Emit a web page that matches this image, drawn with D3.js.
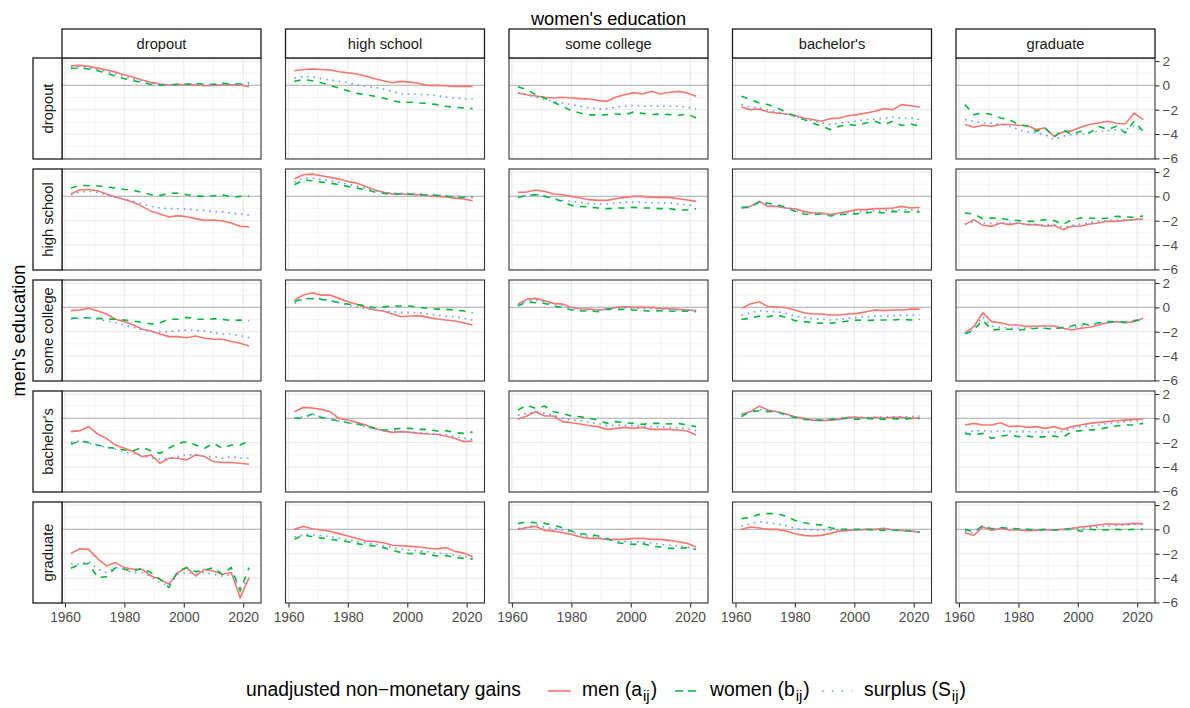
<!DOCTYPE html>
<html>
<head>
<meta charset="utf-8">
<script src="https://cdn.jsdelivr.net/npm/d3@7"></script>
<style>
  body { margin: 0; background: #fff; }
  text { font-family: "Liberation Sans", Arial, Helvetica, sans-serif; }
</style>
</head>
<body>
<svg id="chart" width="1190" height="708"></svg>
<script>
// years sampled every 3 years, 1962..2022
const years = d3.range(1962, 2023, 3);

const menEdu = ["dropout", "high school", "some college", "bachelor's", "graduate"];
const womenEdu = ["dropout", "high school", "some college", "bachelor's", "graduate"];

// men[row = men's education][col = women's education]
const men = [
  [
    [1.61,1.64,1.56,1.42,1.26,1.09,0.87,0.66,0.44,0.25,0.11,0.03,0.08,0.03,0.05,-0.03,0,0.03,0.05,0.03,-0.1],
    [1.2,1.31,1.34,1.31,1.26,1.12,1.04,0.93,0.77,0.55,0.38,0.22,0.33,0.27,0.16,0,0,-0.03,-0.08,-0.08,-0.08],
    [-0.63,-0.77,-0.87,-0.98,-1.04,-0.98,-1.04,-1.09,-1.12,-1.23,-1.31,-0.96,-0.77,-0.6,-0.71,-0.49,-0.71,-0.57,-0.49,-0.63,-0.9],
    [-1.78,-1.99,-1.94,-2.19,-2.27,-2.35,-2.46,-2.68,-2.81,-2.95,-2.73,-2.68,-2.49,-2.4,-2.27,-2.13,-1.91,-1.99,-1.58,-1.67,-1.8],
    [-3.22,-3.44,-3.28,-3.36,-3.22,-3.22,-3.28,-3.3,-3.63,-3.5,-4.18,-3.83,-3.72,-3.44,-3.22,-3.09,-2.95,-3.11,-3.17,-2.27,-2.81]
  ],
  [
    [0.19,0.55,0.57,0.46,0.19,-0.05,-0.25,-0.49,-0.82,-1.23,-1.45,-1.69,-1.58,-1.67,-1.83,-1.97,-1.94,-2.02,-2.19,-2.46,-2.51],
    [1.45,1.78,1.83,1.69,1.56,1.42,1.23,1.09,0.82,0.55,0.33,0.19,0.19,0.16,0.14,0.05,0,-0.05,-0.14,-0.22,-0.36],
    [0.33,0.36,0.52,0.41,0.19,0.14,0,-0.14,-0.27,-0.33,-0.33,-0.19,-0.08,0,0,-0.08,-0.08,-0.08,-0.19,-0.3,-0.41],
    [-0.96,-0.82,-0.41,-0.82,-0.82,-0.96,-1.01,-1.23,-1.37,-1.37,-1.5,-1.37,-1.23,-1.09,-1.09,-1.01,-1.01,-0.96,-0.82,-0.96,-0.9],
    [-2.32,-1.91,-2.38,-2.46,-2.19,-2.32,-2.19,-2.32,-2.32,-2.46,-2.38,-2.73,-2.46,-2.46,-2.27,-2.19,-2.05,-2.05,-1.97,-1.91,-1.86]
  ],
  [
    [-0.27,-0.22,-0.08,-0.3,-0.55,-0.98,-1.17,-1.45,-1.8,-1.94,-2.19,-2.4,-2.4,-2.49,-2.35,-2.54,-2.62,-2.62,-2.81,-2.95,-3.17],
    [0.6,1.01,1.2,1.01,1.01,0.74,0.46,0.25,0,-0.22,-0.3,-0.55,-0.77,-0.71,-0.68,-0.82,-0.96,-1.04,-1.12,-1.26,-1.45],
    [0.27,0.66,0.74,0.55,0.33,0.27,0,-0.11,-0.14,-0.22,-0.14,0,0.05,0,0,0,-0.08,-0.11,-0.16,-0.22,-0.27],
    [-0.08,0.27,0.46,0.05,0.05,-0.03,-0.22,-0.44,-0.55,-0.55,-0.63,-0.63,-0.55,-0.49,-0.36,-0.22,-0.27,-0.22,-0.22,-0.14,-0.14],
    [-2.08,-1.58,-0.44,-1.17,-1.26,-1.45,-1.45,-1.58,-1.53,-1.53,-1.53,-1.72,-1.86,-1.72,-1.64,-1.45,-1.26,-1.17,-1.26,-1.17,-0.9]
  ],
  [
    [-1.09,-1.01,-0.68,-1.28,-1.64,-2.19,-2.46,-2.73,-3.14,-3.0,-3.69,-3.28,-3.28,-3.41,-3.0,-3.14,-3.55,-3.63,-3.63,-3.69,-3.77],
    [0.55,0.9,0.85,0.74,0.55,0,-0.14,-0.33,-0.55,-0.82,-1.01,-1.15,-1.09,-1.15,-1.23,-1.28,-1.31,-1.45,-1.64,-1.91,-1.86],
    [-0.08,0.19,0.55,0.19,0.19,-0.27,-0.36,-0.46,-0.6,-0.68,-0.9,-0.82,-0.74,-0.82,-0.74,-0.9,-0.9,-0.9,-0.96,-1.04,-1.37],
    [0.36,0.55,1.01,0.68,0.55,0.36,0.14,0,-0.14,-0.19,-0.14,-0.08,0.08,0.08,0.03,0.08,0.03,0.08,0.08,0,0.03],
    [-0.55,-0.41,-0.55,-0.55,-0.36,-0.68,-0.63,-0.74,-0.68,-0.82,-0.68,-0.9,-0.68,-0.55,-0.41,-0.33,-0.27,-0.19,-0.14,-0.08,-0.05]
  ],
  [
    [-1.97,-1.6,-1.64,-2.4,-3.0,-2.73,-3.14,-3.28,-3.28,-3.83,-4.1,-4.5,-3.55,-3.14,-3.83,-3.28,-3.42,-3.69,-3.55,-5.6,-3.96],
    [0,0.25,0.05,-0.05,-0.15,-0.35,-0.55,-0.75,-0.95,-1.0,-1.1,-1.3,-1.35,-1.4,-1.45,-1.55,-1.6,-1.5,-1.8,-1.95,-2.25],
    [0,0.15,0.25,-0.08,-0.14,-0.27,-0.41,-0.63,-0.74,-0.74,-0.82,-0.82,-0.82,-0.74,-0.74,-0.82,-0.82,-0.9,-1.01,-1.15,-1.45],
    [0,0.19,0.11,0,0,-0.14,-0.36,-0.49,-0.55,-0.49,-0.33,-0.14,-0.08,-0.05,0,0,0.08,-0.05,-0.08,-0.14,-0.22],
    [-0.27,-0.5,0.2,-0.08,0.08,-0.05,-0.05,-0.1,-0.08,-0.05,-0.05,0,0.08,0.19,0.27,0.36,0.46,0.41,0.41,0.49,0.46]
  ]
];

const women = [
  [
    [1.39,1.42,1.34,1.2,1.01,0.74,0.55,0.38,0.25,0.08,0,0.05,0.08,0.1,0.16,0.1,0.08,0.19,0.1,0.14,0.22],
    [0.33,0.49,0.38,0.22,0,-0.22,-0.44,-0.66,-0.77,-0.9,-1.04,-1.26,-1.39,-1.39,-1.45,-1.48,-1.58,-1.72,-1.8,-1.86,-1.91],
    [-0.11,-0.36,-0.77,-1.04,-1.39,-1.72,-2.08,-2.27,-2.4,-2.46,-2.4,-2.35,-2.4,-2.19,-2.3,-2.4,-2.35,-2.4,-2.46,-2.35,-2.68],
    [-0.9,-1.17,-1.45,-1.58,-1.86,-2.19,-2.54,-2.81,-3.09,-3.36,-3.63,-3.36,-3.22,-3.28,-3.09,-2.95,-3.22,-2.95,-3.3,-3.17,-3.36],
    [-1.58,-2.4,-2.27,-2.4,-2.68,-2.81,-3.22,-3.36,-3.77,-3.5,-4.26,-3.63,-4.04,-3.77,-3.91,-3.36,-3.63,-3.36,-3.91,-2.95,-3.77]
  ],
  [
    [0.68,0.9,0.87,0.87,0.77,0.68,0.57,0.49,0.33,0.14,0.08,0.25,0.27,0.14,0.03,0,0.05,0.14,-0.08,0,0.03],
    [0.96,1.34,1.28,1.17,1.09,0.96,0.82,0.68,0.55,0.36,0.25,0.19,0.19,0.19,0.14,0.11,0.08,0.03,-0.05,-0.08,-0.08],
    [-0.08,0.08,0.14,0,-0.19,-0.41,-0.74,-0.82,-0.87,-0.96,-1.01,-0.96,-0.96,-0.9,-0.96,-0.96,-1.01,-1.01,-1.12,-1.12,-1.01],
    [-0.9,-0.9,-0.46,-0.57,-0.68,-0.9,-1.23,-1.45,-1.5,-1.45,-1.61,-1.5,-1.45,-1.42,-1.37,-1.28,-1.37,-1.23,-1.28,-1.28,-1.28],
    [-1.37,-1.45,-1.83,-1.78,-1.83,-1.91,-1.99,-2.05,-2.05,-1.91,-1.99,-2.32,-1.91,-1.78,-1.78,-1.83,-1.78,-1.64,-1.69,-1.72,-1.61]
  ],
  [
    [-0.9,-0.87,-0.85,-0.9,-0.96,-0.98,-1.04,-1.12,-1.23,-1.37,-1.26,-0.98,-0.98,-0.82,-0.98,-0.98,-0.93,-0.98,-1.09,-1.04,-1.09],
    [0.46,0.74,0.71,0.66,0.55,0.38,0.27,0.25,0.11,-0.03,0.05,0.11,0.11,0.11,0,-0.08,-0.14,-0.16,-0.22,-0.3,-0.44],
    [0.11,0.46,0.38,0.33,0.11,0,-0.22,-0.3,-0.3,-0.36,-0.16,-0.16,-0.16,-0.22,-0.27,-0.3,-0.27,-0.3,-0.33,-0.3,-0.36],
    [-0.98,-0.9,-0.71,-0.77,-0.63,-0.82,-1.09,-1.17,-1.26,-1.31,-1.31,-1.2,-1.12,-1.04,-1.09,-1.04,-1.04,-1.04,-0.98,-1.04,-0.98],
    [-2.19,-1.86,-1.04,-1.86,-1.8,-1.8,-1.86,-1.8,-1.72,-1.72,-1.8,-1.64,-1.53,-1.31,-1.45,-1.26,-1.17,-1.17,-1.23,-1.09,-0.98]
  ],
  [
    [-2.13,-1.83,-1.99,-2.19,-2.38,-2.46,-2.6,-2.65,-2.38,-2.65,-2.87,-2.46,-2.05,-1.91,-2.19,-2.46,-2.05,-2.46,-2.19,-2.19,-1.83],
    [0,0.05,0.36,0.08,-0.08,-0.22,-0.36,-0.46,-0.63,-0.82,-0.96,-0.9,-0.82,-0.82,-0.9,-0.9,-1.04,-1.01,-1.17,-1.23,-1.12],
    [0.68,1.09,0.82,1.01,0.55,0.41,0.19,0.14,0,-0.14,-0.41,-0.27,-0.36,-0.41,-0.49,-0.41,-0.41,-0.46,-0.41,-0.55,-0.68],
    [0.14,0.55,0.63,0.55,0.55,0.27,0.08,-0.08,-0.14,-0.14,-0.08,0,0,-0.08,0,-0.05,-0.08,-0.03,-0.08,0,0],
    [-1.23,-1.37,-1.23,-1.64,-1.45,-1.37,-1.5,-1.45,-1.56,-1.5,-1.45,-1.56,-1.09,-1.01,-0.96,-0.9,-0.74,-0.63,-0.55,-0.55,-0.41]
  ],
  [
    [-3.2,-2.87,-2.81,-3.96,-3.9,-3.14,-3.28,-3.42,-3.2,-3.55,-4.1,-4.78,-3.42,-3.14,-3.47,-3.36,-3.14,-3.69,-3.14,-5.05,-3.14],
    [-0.82,-0.45,-0.6,-0.7,-0.82,-0.9,-1.01,-1.17,-1.28,-1.37,-1.5,-1.72,-1.91,-1.99,-1.95,-2.05,-2.19,-2.15,-2.32,-2.38,-2.46],
    [0.49,0.6,0.55,0.49,0.33,0.14,-0.14,-0.36,-0.41,-0.55,-0.74,-1.09,-1.17,-1.23,-1.17,-1.37,-1.45,-1.56,-1.56,-1.5,-1.64],
    [0.87,1.01,1.23,1.31,1.28,1.09,0.74,0.55,0.41,0.36,0.14,0,0,0,0,-0.05,-0.08,-0.05,-0.1,-0.15,-0.22],
    [0,-0.2,0.3,0.05,0.15,0.1,0.05,0,-0.05,0,-0.05,0,0,-0.15,0,-0.05,-0.05,0,-0.05,0,0]
  ]
];

const surplus = [
  [
    [1.5,1.52,1.45,1.32,1.15,0.95,0.72,0.52,0.35,0.17,0.06,0.04,0.08,0.07,0.1,0.04,0.04,0.1,0.08,0.08,0.05],
    [0.6,0.71,0.71,0.55,0.44,0.33,0.22,0.05,-0.08,-0.16,-0.3,-0.49,-0.71,-0.71,-0.74,-0.77,-0.85,-0.96,-1.04,-1.09,-1.12],
    [-0.63,-0.77,-0.98,-1.15,-1.31,-1.45,-1.58,-1.72,-1.86,-1.94,-1.91,-1.78,-1.72,-1.64,-1.72,-1.67,-1.72,-1.72,-1.72,-1.8,-1.94],
    [-1.58,-1.78,-1.86,-2.02,-2.19,-2.35,-2.54,-2.76,-2.9,-3.09,-3.22,-3.09,-3.03,-2.9,-2.81,-2.81,-2.68,-2.62,-2.68,-2.68,-2.81],
    [-2.81,-2.95,-3.09,-3.09,-3.22,-3.36,-3.63,-3.83,-3.91,-4.04,-4.45,-4.18,-4.04,-4.04,-3.83,-3.77,-3.72,-3.63,-3.63,-3.36,-3.77]
  ],
  [
    [0.14,0.36,0.41,0.33,0.14,-0.08,-0.22,-0.41,-0.63,-0.82,-0.96,-1.01,-1.01,-1.04,-1.09,-1.15,-1.23,-1.28,-1.37,-1.45,-1.53],
    [1.17,1.5,1.5,1.39,1.28,1.15,1.01,0.87,0.68,0.46,0.33,0.27,0.27,0.25,0.22,0.16,0.14,0.08,0.03,-0.03,-0.08],
    [0,0.08,0.14,0.05,-0.14,-0.33,-0.41,-0.49,-0.6,-0.63,-0.63,-0.55,-0.49,-0.46,-0.49,-0.52,-0.52,-0.55,-0.63,-0.71,-0.77],
    [-0.96,-0.85,-0.46,-0.74,-0.82,-0.96,-1.12,-1.34,-1.45,-1.45,-1.56,-1.45,-1.34,-1.28,-1.23,-1.17,-1.17,-1.12,-1.12,-1.12,-1.15],
    [-2.27,-2.05,-2.19,-2.19,-2.19,-2.19,-2.21,-2.32,-2.32,-2.32,-2.32,-2.54,-2.38,-2.27,-2.13,-2.05,-1.99,-1.94,-1.91,-1.89,-1.83]
  ],
  [
    [-0.96,-0.9,-0.85,-0.98,-1.12,-1.26,-1.45,-1.64,-1.86,-1.99,-1.99,-1.99,-1.91,-1.86,-1.91,-1.94,-2.08,-2.19,-2.19,-2.32,-2.49],
    [0.33,0.66,0.74,0.74,0.55,0.38,0.19,0.05,-0.08,-0.22,-0.27,-0.36,-0.41,-0.41,-0.44,-0.55,-0.63,-0.71,-0.77,-0.9,-1.04],
    [0.2,0.55,0.6,0.45,0.25,0.15,-0.08,-0.2,-0.2,-0.27,-0.14,-0.05,-0.05,-0.08,-0.1,-0.1,-0.15,-0.16,-0.2,-0.22,-0.27],
    [-0.66,-0.44,-0.27,-0.36,-0.36,-0.49,-0.71,-0.82,-0.93,-0.98,-1.04,-0.98,-0.9,-0.82,-0.77,-0.71,-0.71,-0.68,-0.66,-0.63,-0.63],
    [-2.13,-1.8,-0.77,-1.53,-1.64,-1.72,-1.72,-1.72,-1.72,-1.72,-1.72,-1.72,-1.64,-1.53,-1.45,-1.31,-1.26,-1.2,-1.2,-1.09,-0.98]
  ],
  [
    [-1.97,-1.86,-2.05,-2.19,-2.38,-2.54,-2.73,-2.92,-3.09,-3.28,-3.36,-3.28,-3.14,-3.0,-3.0,-3.14,-3.14,-3.28,-3.14,-3.28,-3.28],
    [0,0.14,0.33,0.14,-0.08,-0.22,-0.36,-0.49,-0.68,-0.87,-1.01,-1.09,-1.09,-1.12,-1.17,-1.23,-1.28,-1.37,-1.5,-1.64,-1.72],
    [0.27,0.41,0.55,0.41,0.27,0,-0.14,-0.19,-0.33,-0.41,-0.63,-0.57,-0.57,-0.6,-0.63,-0.68,-0.68,-0.74,-0.77,-0.85,-1.01],
    [0.33,0.55,0.74,0.63,0.55,0.33,0.14,-0.03,-0.14,-0.14,-0.08,0,0.08,0.08,0.08,0.11,0.11,0.14,0.14,0.14,0.19],
    [-1.17,-1.01,-1.01,-1.09,-1.01,-1.09,-1.09,-1.09,-1.12,-1.12,-1.12,-1.09,-0.82,-0.68,-0.63,-0.55,-0.41,-0.36,-0.27,-0.22,-0.19]
  ],
  [
    [-2.81,-2.87,-2.6,-3.28,-3.55,-3.14,-3.28,-3.55,-3.55,-3.9,-4.37,-4.64,-3.69,-3.55,-3.69,-3.55,-3.69,-3.83,-3.69,-4.78,-4.1],
    [-0.63,-0.4,-0.45,-0.5,-0.6,-0.72,-0.85,-1.0,-1.1,-1.2,-1.33,-1.5,-1.64,-1.72,-1.75,-1.85,-1.95,-2.0,-2.12,-2.22,-2.38],
    [0.08,0.14,0.41,0.19,0.08,-0.05,-0.27,-0.46,-0.57,-0.68,-0.82,-0.96,-1.01,-1.04,-1.04,-1.12,-1.23,-1.31,-1.37,-1.45,-1.64],
    [0.27,0.45,0.63,0.55,0.45,0.3,0.1,0,-0.05,-0.08,-0.08,-0.05,-0.03,-0.03,-0.03,-0.03,0,-0.03,-0.08,-0.14,-0.22],
    [-0.14,-0.3,0.3,0.05,0.1,0.05,0,0,-0.05,-0.05,-0.05,0,0.05,0.08,0.15,0.2,0.3,0.33,0.35,0.4,0.4]
  ]
];

const xMajor = [1960, 1980, 2000, 2020];
const xMinor = [1970, 1990, 2010];
const yMajor = [-6, -4, -2, 0, 2];
const yMinor = [-5, -3, -1, 1];

const legendLabels = [
  {name: "men", sub: "a"},
  {name: "women", sub: "b"},
  {name: "surplus", sub: "S"}
];

// ---- layout ----
const panelW = 199, panelH = 101;
const colX = d3.range(5).map(i => 62 + i * 223.5);
const rowY = d3.range(5).map(i => 58 + i * 111);

const seriesStyle = {
  men:     {color: "#F8766D", dash: null},
  women:   {color: "#00BA38", dash: "6.4,6.4"},
  surplus: {color: "#619CFF", dash: "1.6,4.8"}
};
const seriesData = {men: men, women: women, surplus: surplus};

const svg = d3.select("#chart");

const x = d3.scaleLinear().domain([1959, 2026]).range([0, panelW]);
const y = d3.scaleLinear().domain([-6.05, 2.25]).range([panelH, 0]);

const line = d3.line()
  .x((d, i) => x(years[i]))
  .y(d => y(d));

for (let r = 0; r < 5; r++) {
  for (let c = 0; c < 5; c++) {
    const g = svg.append("g").attr("transform", `translate(${colX[c]},${rowY[r]})`);

    g.append("rect").attr("width", panelW).attr("height", panelH).attr("fill", "#fff");

    // grid
    g.selectAll(".gxm").data(xMinor).join("line")
      .attr("x1", d => x(d)).attr("x2", d => x(d)).attr("y1", 0).attr("y2", panelH)
      .attr("stroke", "#ebebeb").attr("stroke-width", 0.6);
    g.selectAll(".gym").data(yMinor).join("line")
      .attr("y1", d => y(d)).attr("y2", d => y(d)).attr("x1", 0).attr("x2", panelW)
      .attr("stroke", "#ebebeb").attr("stroke-width", 0.6);
    g.selectAll(".gx").data(xMajor).join("line")
      .attr("x1", d => x(d)).attr("x2", d => x(d)).attr("y1", 0).attr("y2", panelH)
      .attr("stroke", "#ebebeb").attr("stroke-width", 1.2);
    g.selectAll(".gy").data(yMajor).join("line")
      .attr("y1", d => y(d)).attr("y2", d => y(d)).attr("x1", 0).attr("x2", panelW)
      .attr("stroke", "#ebebeb").attr("stroke-width", 1.2);

    // reference line at zero
    g.append("line")
      .attr("x1", 0).attr("x2", panelW).attr("y1", y(0)).attr("y2", y(0))
      .attr("stroke", "#bdbdbd").attr("stroke-width", 1.2);

    for (const key of ["men", "women", "surplus"]) {
      g.append("path")
        .datum(seriesData[key][r][c])
        .attr("d", line)
        .attr("fill", "none")
        .attr("stroke", seriesStyle[key].color)
        .attr("stroke-width", 1.6)
        .attr("stroke-dasharray", seriesStyle[key].dash);
    }

    g.append("rect").attr("width", panelW).attr("height", panelH)
      .attr("fill", "none").attr("stroke", "#333").attr("stroke-width", 1.1);

    if (c === 4) {
      const ax = g.append("g").attr("transform", `translate(${panelW},0)`)
        .call(d3.axisRight(y).tickValues(yMajor).tickSize(4.5).tickPadding(3));
      ax.select(".domain").remove();
      ax.selectAll("line").attr("stroke", "#333").attr("stroke-width", 1.1);
      ax.selectAll("text").attr("fill", "#4d4d4d")
        .style("font-size", "13.6px");
      ax.attr("font-family", null).attr("font-size", null);
    }
    if (r === 4) {
      const ax = g.append("g").attr("transform", `translate(0,${panelH})`)
        .call(d3.axisBottom(x).tickValues(xMajor).tickFormat(d3.format("d")).tickSize(4.5).tickPadding(5));
      ax.select(".domain").remove();
      ax.selectAll("line").attr("stroke", "#333").attr("stroke-width", 1.1);
      ax.selectAll("text").attr("fill", "#4d4d4d")
        .style("font-size", "13.8px");
      ax.attr("font-family", null).attr("font-size", null);
    }
  }
}

// top strips (women's education)
womenEdu.forEach((lab, c) => {
  svg.append("rect")
    .attr("x", colX[c]).attr("y", 29).attr("width", panelW).attr("height", 29)
    .attr("fill", "#fff").attr("stroke", "#1a1a1a").attr("stroke-width", 1.3);
  svg.append("text")
    .attr("x", colX[c] + panelW / 2).attr("y", 48.5)
    .attr("text-anchor", "middle").attr("fill", "#1a1a1a")
    .style("font-size", "14.7px").text(lab);
});

// left strips (men's education)
menEdu.forEach((lab, r) => {
  svg.append("rect")
    .attr("x", 33).attr("y", rowY[r]).attr("width", 29).attr("height", panelH)
    .attr("fill", "#fff").attr("stroke", "#1a1a1a").attr("stroke-width", 1.3);
  svg.append("text")
    .attr("transform", `translate(47.5,${rowY[r] + panelH / 2}) rotate(-90)`)
    .attr("dy", "0.35em")
    .attr("text-anchor", "middle").attr("fill", "#1a1a1a")
    .style("font-size", "14.7px").text(lab);
});

// axis titles
svg.append("text")
  .attr("x", (colX[0] + colX[4] + panelW) / 2).attr("y", 24.5)
  .attr("text-anchor", "middle").attr("fill", "#000")
  .style("font-size", "18.2px").text("women's education");
svg.append("text")
  .attr("transform", `translate(25,${(rowY[0] + rowY[4] + panelH) / 2}) rotate(-90)`)
  .attr("text-anchor", "middle").attr("fill", "#000")
  .style("font-size", "18.2px").text("men's education");

// legend
const legY = 696;
svg.append("text").attr("x", 246).attr("y", legY).attr("fill", "#000")
  .style("font-size", "19.3px").text("unadjusted non\u2212monetary gains");

const keyX = [548, 675, 822];
const keyW = [23, 22, 30];
const keyDash = [null, "8,5", "1.6,8.2"];
const labelX = [582, 710, 864];
legendLabels.forEach((d, i) => {
  svg.append("line")
    .attr("x1", keyX[i]).attr("x2", keyX[i] + keyW[i])
    .attr("y1", legY - 5).attr("y2", legY - 5)
    .attr("stroke", seriesStyle[d.name].color).attr("stroke-width", 1.6)
    .attr("stroke-dasharray", keyDash[i]);
  const t = svg.append("text").attr("x", labelX[i]).attr("y", legY).attr("fill", "#000")
    .style("font-size", "19.3px");
  t.append("tspan").text(d.name + " (" + d.sub);
  t.append("tspan").attr("dx", 1).attr("dy", 5).style("font-size", "15px").text("ij");
  t.append("tspan").attr("dx", 1).attr("dy", -5).text(")");
});
</script>
</body>
</html>
